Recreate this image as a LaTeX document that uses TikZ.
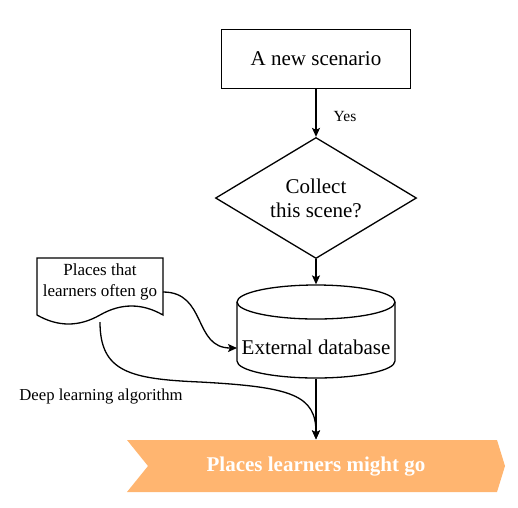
\documentclass[tikz,border=0pt]{standalone}
\usepackage{fontspec}
\setmainfont{Liberation Serif}
\usetikzlibrary{arrows.meta,shapes.geometric}
\definecolor{chev}{HTML}{FFB570}
\tikzset{
  every path/.style={line width=1.3pt},
  conn/.style={draw=black,line width=1.3pt,-{Stealth[length=9pt,width=8pt,inset=2pt]}},
  plain/.style={draw=black,line width=1.3pt},
  bigtxt/.style={font=\fontsize{21}{24}\selectfont,align=center,inner sep=0pt},
  smalltxt/.style={font=\fontsize{17}{21}\selectfont,align=center,inner sep=0pt},
}
\begin{document}
\begin{tikzpicture}[x=1pt,y=-1pt]
\useasboundingbox (0,0) rectangle (518,507);
% start box
\node[draw,line width=1.3pt,minimum width=189pt,minimum height=59pt,bigtxt] (start) at (316,59) {A new scenario};
% diamond
\node[diamond,draw,line width=1.3pt,minimum width=201pt,minimum height=121pt,aspect=1.66,inner sep=0pt,bigtxt] (dec) at (316,198) {Collect\\this scene?};
% cylinder
\draw[plain] (316,302) ellipse (79 and 17);
\draw[plain] (237,302) -- (237,361) arc[start angle=180,end angle=0,x radius=79,y radius=17] -- (395,302);
\node[minimum width=158pt,minimum height=93pt,inner sep=0pt] (cyl) at (316,331.5) {};
\node[bigtxt] (db) at (316,347) {External database};
\coordinate (cylW) at (237,348);
% document
\draw[plain] (37,258) -- (163,258) -- (163,315) .. controls (142,303) and (121,303) .. (100,315) .. controls (79,327) and (58,327) .. (37,315) -- cycle;
\node[minimum width=126pt,minimum height=65pt,inner sep=0pt] (doc) at (100,290) {};
\node[smalltxt] (doctxt) at (100,282) {Places that\\learners often go};
\coordinate (docR) at (163,292);
\coordinate (docB) at (100,322);
% chevron
\fill[chev] (127,440) -- (497,440) -- (505,466) -- (497,492) -- (127,492) -- (148,466) -- cycle;
\node[inner sep=0pt,minimum width=378pt,minimum height=52pt] (out) at (316,466) {};
\node[font=\fontsize{21}{24}\selectfont\bfseries,text=white,inner sep=0pt] (outtxt) at (316,467) {Places learners might go};
% labels
\node[smalltxt,font=\fontsize{15.5}{18}\selectfont] (yes) at (345,116) {Yes};
\node[smalltxt,font=\fontsize{16.7}{19}\selectfont] (dla) at (101,396) {Deep learning algorithm};
% connectors
\draw[conn] (start.south) -- (dec.north);
\draw[conn] (dec.south) -- (cyl.north);
\draw[conn] (cyl.south) -- (out.north);
\draw[conn] (docR) .. controls (207,292) and (193,348) .. (cylW);
\draw[conn] (docB) .. controls (100,372) and (130,379) .. (200,382) .. controls (292,387) and (316,395) .. (out.north);
\end{tikzpicture}
\end{document}
